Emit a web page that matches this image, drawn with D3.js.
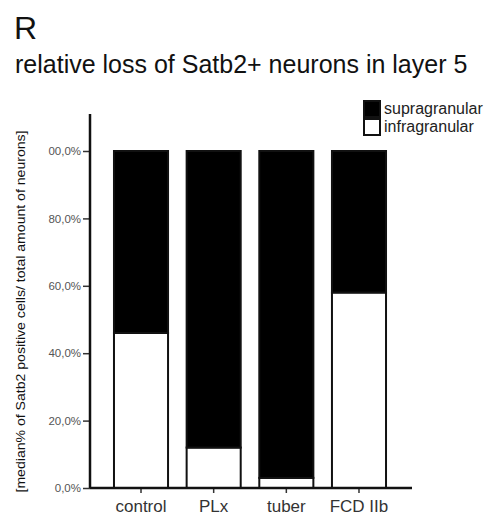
<!DOCTYPE html>
<html>
<head>
<meta charset="utf-8">
<script src="https://cdn.jsdelivr.net/npm/d3@7"></script>
<style>
  body { margin: 0; background: white; }
  text { font-family: "Liberation Sans", Arial, sans-serif; }
</style>
</head>
<body>
<div id="chart"></div>
<script>
// data
const groups = ['control', 'PLx', 'tuber', 'FCD IIb'];
const infragranular = [46, 12, 3, 58];
const supragranular = [54, 88, 97, 42];
const yTicks = [0, 20, 40, 60, 80, 100];
const yTickLabels = ['0,0%', '20,0%', '40,0%', '60,0%', '80,0%', '00,0%'];
const legendLabels = ['supragranular', 'infragranular'];

const W = 495, H = 519;
const x0 = 90, x1 = 410, yBottom = 488, yTop = 151;

const svg = d3.select('#chart').append('svg')
    .attr('width', W)
    .attr('height', H)
    .style('background', 'white');

// titles
svg.append('text')
    .attr('x', 14).attr('y', 39)
    .style('font-size', '32px')
    .attr('fill', '#111')
    .text('R');
svg.append('text')
    .attr('x', 15).attr('y', 73)
    .style('font-size', '25px')
    .attr('fill', '#111')
    .text('relative loss of Satb2+ neurons in layer 5');

const xScale = d3.scaleBand()
    .domain(groups)
    .range([x0, x1])
    .paddingInner(0.256)
    .paddingOuter(0.33);

const yScale = d3.scaleLinear()
    .domain([0, 100])
    .range([yBottom, yTop]);

const stackData = groups.map((g, i) => ({ group: g, infra: infragranular[i], supra: supragranular[i] }));
const stack = d3.stack().keys(['infra', 'supra'])(stackData);
const fills = { infra: 'white', supra: 'black' };

// bars
svg.append('g').selectAll('g')
    .data(stack)
    .enter().append('g')
    .attr('fill', d => fills[d.key])
    .selectAll('rect')
    .data(d => d)
    .enter().append('rect')
    .attr('x', d => xScale(d.data.group))
    .attr('width', xScale.bandwidth())
    .attr('y', d => yScale(d[1]))
    .attr('height', d => yScale(d[0]) - yScale(d[1]))
    .attr('stroke', '#111')
    .attr('stroke-width', 2);

// y axis
const yAxis = svg.append('g')
    .attr('transform', 'translate(' + x0 + ',0)')
    .call(d3.axisLeft(yScale)
        .tickValues(yTicks)
        .tickSize(7)
        .tickFormat((d, i) => yTickLabels[i]));
yAxis.select('.domain').remove();
yAxis.append('line')
    .attr('x1', 0).attr('x2', 0)
    .attr('y1', 114).attr('y2', yBottom)
    .attr('stroke', '#111').attr('stroke-width', 2.5);
yAxis.selectAll('.tick line').attr('stroke', '#333').attr('stroke-width', 1.5);
yAxis.selectAll('.tick text')
    .attr('fill', '#555')
    .attr('x', -9)
    .style('font-size', '11.5px')
    .style('font-family', '"Liberation Sans", Arial, sans-serif');

// x axis
const xAxis = svg.append('g')
    .attr('transform', 'translate(0,' + yBottom + ')')
    .call(d3.axisBottom(xScale).tickSize(5).tickSizeOuter(0));
xAxis.select('.domain').remove();
xAxis.append('line')
    .attr('x1', x0).attr('x2', x1 + 2)
    .attr('y1', 0).attr('y2', 0)
    .attr('stroke', '#111').attr('stroke-width', 2.5);
xAxis.selectAll('.tick line').attr('stroke', '#333').attr('stroke-width', 1.5);
xAxis.selectAll('.tick text')
    .attr('fill', '#333')
    .attr('y', 12)
    .style('font-size', '17px')
    .style('font-family', '"Liberation Sans", Arial, sans-serif');

// y label
svg.append('text')
    .attr('transform', 'translate(25,' + ((130 + 493) / 2) + ') rotate(-90)')
    .attr('text-anchor', 'middle')
    .attr('fill', '#111')
    .style('font-size', '13.5px')
    .attr('textLength', 362)
    .attr('lengthAdjust', 'spacingAndGlyphs')
    .text('[median% of Satb2 positive cells/ total amount of neurons]');

// legend
const legend = svg.append('g').attr('transform', 'translate(364,100)');
const legendFills = ['black', 'white'];
legend.selectAll('rect')
    .data(legendLabels)
    .enter().append('rect')
    .attr('x', 0)
    .attr('y', (d, i) => i * 18 + 1)
    .attr('width', 16)
    .attr('height', 16)
    .attr('fill', (d, i) => legendFills[i])
    .attr('stroke', '#111')
    .attr('stroke-width', 2);
legend.selectAll('text')
    .data(legendLabels)
    .enter().append('text')
    .attr('x', 20)
    .attr('y', (d, i) => i * 18 + 14)
    .attr('fill', '#222')
    .style('font-size', '16px')
    .text(d => d);
</script>
</body>
</html>
